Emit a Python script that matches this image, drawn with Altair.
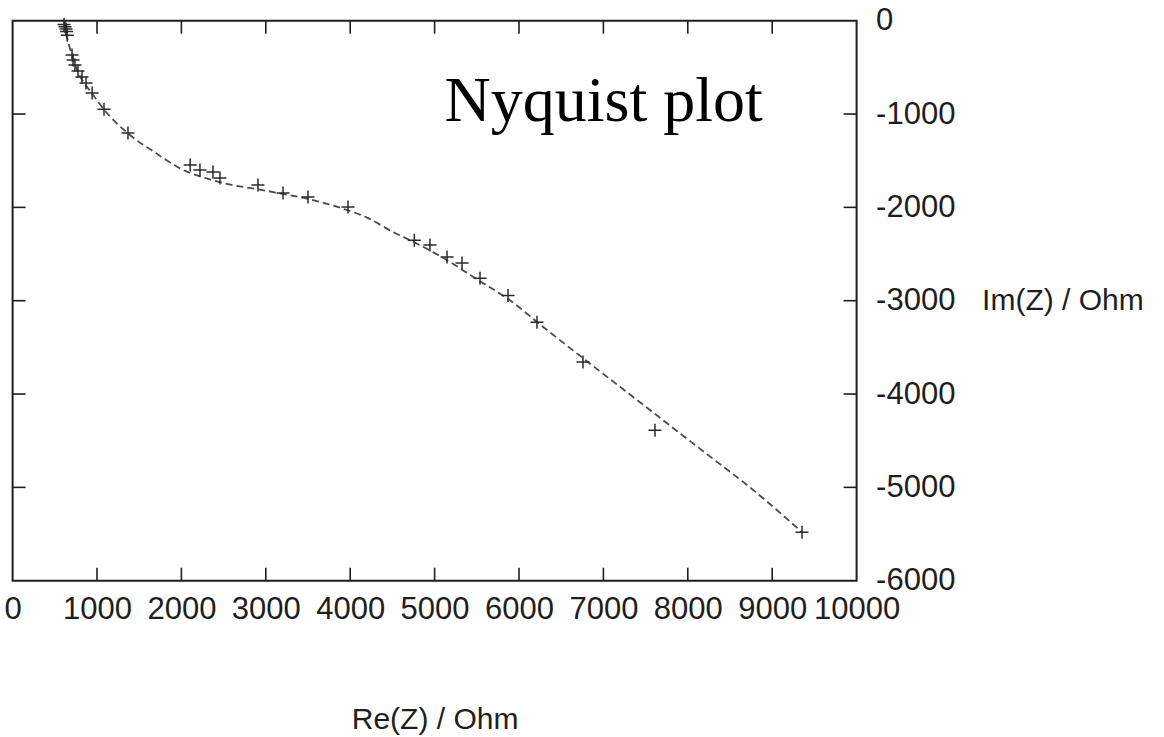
import altair as alt
import pandas as pd

# Measured impedance spectrum (Ohm)
re_z = [609, 621, 633, 640, 648, 704, 716, 739, 775, 822, 870, 942, 1083, 1367,
        2104, 2220, 2374, 2457, 2907, 3204, 3500, 3974, 4760, 4945, 5147, 5325,
        5538, 5870, 6213, 6758, 7611, 9353]
im_z = [-40, -65, -90, -115, -155, -368, -421, -475, -539, -603, -668, -775, -950, -1204,
        -1547, -1600, -1622, -1686, -1761, -1847, -1890, -1997, -2351, -2404, -2533, -2597,
        -2760, -2945, -3230, -3658, -4387, -5480]

# Fitted model curve
fit_re = [610, 625, 640, 665, 700, 740, 790, 860, 950, 1100, 1370, 1700, 2000, 2300,
          2600, 2900, 3200, 3500, 3900, 4200, 4500, 4750, 5100, 5500, 5900, 6250,
          6750, 7250, 7750, 8250, 8750, 9353]
fit_im = [-20, -80, -160, -250, -360, -470, -580, -680, -790, -970, -1210, -1420, -1590, -1690,
          -1760, -1805, -1855, -1910, -2010, -2110, -2260, -2370, -2540, -2770, -3000, -3255,
          -3610, -3960, -4310, -4660, -5010, -5480]

x_ticks = [1000, 2000, 3000, 4000, 5000, 6000, 7000, 8000, 9000]
y_ticks = [-1000, -2000, -3000, -4000, -5000]

W, H = 844, 560
TICK = 13
INK = "#1e1e1e"
SANS = "Liberation Sans"

meas = pd.DataFrame({"re": re_z, "im": im_z})
fit = pd.DataFrame({"re": fit_re, "im": fit_im, "i": list(range(len(fit_re)))})
xt = pd.DataFrame({"re": x_ticks})
yt = pd.DataFrame({"im": y_ticks})

x_scale = alt.Scale(domain=[0, 10000], nice=False, zero=False)
y_scale = alt.Scale(domain=[-6000, 0], nice=False, zero=False)

x_axis = alt.Axis(
    values=list(range(0, 10001, 1000)), ticks=False, domain=False, grid=False,
    labelFont=SANS, labelFontSize=31, labelColor=INK, labelPadding=14,
    labelFlush=False, labelOverlap=False, labelExpr="'' + datum.value",
    title="Re(Z) / Ohm", titleFont=SANS, titleFontSize=30, titleFontWeight="normal",
    titleColor=INK, titleY=139, titleBaseline="middle",
)
y_axis = alt.Axis(
    orient="right", values=list(range(-6000, 1, 1000)), ticks=False, domain=False,
    grid=False, labelFont=SANS, labelFontSize=31, labelColor=INK, labelAlign="left",
    labelBaseline="middle", labelPadding=19, labelFlush=False, labelOverlap=False,
    labelExpr="'' + datum.value",
    title="Im(Z) / Ohm", titleFont=SANS, titleFontSize=30, titleFontWeight="normal",
    titleColor=INK, titleAngle=0, titleAlign="left", titleBaseline="middle",
    titleX=125, titleY=280,
)

X = alt.X("re:Q", scale=x_scale, axis=x_axis)
Y = alt.Y("im:Q", scale=y_scale, axis=y_axis)

curve = alt.Chart(fit).mark_line(
    color="#4a4a4a", strokeWidth=1.8, strokeDash=[7, 4], interpolate="monotone"
).encode(x=X, y=Y, order="i:Q")

points = alt.Chart(meas).mark_point(
    shape="M-1,0L1,0M0,-1L0,1", filled=False, size=169, strokeWidth=1.5,
    color="#2a2a2a", opacity=1
).encode(x=X, y=Y)

# inward tick marks on all four sides
xt_bottom = alt.Chart(xt).mark_rule(color=INK, strokeWidth=1.6).encode(
    x=X, y=alt.value(H), y2=alt.value(H - TICK))
xt_top = alt.Chart(xt).mark_rule(color=INK, strokeWidth=1.6).encode(
    x=X, y=alt.value(0), y2=alt.value(TICK))
yt_left = alt.Chart(yt).mark_rule(color=INK, strokeWidth=1.6).encode(
    y=Y, x=alt.value(0), x2=alt.value(TICK))
yt_right = alt.Chart(yt).mark_rule(color=INK, strokeWidth=1.6).encode(
    y=Y, x=alt.value(W), x2=alt.value(W - TICK))

label = alt.Chart(pd.DataFrame({"t": ["Nyquist plot"]})).mark_text(
    font="Liberation Serif", fontSize=64, align="left", baseline="alphabetic", color="#000000"
).encode(text="t:N", x=alt.value(432), y=alt.value(100))

chart = alt.layer(curve, points, xt_bottom, xt_top, yt_left, yt_right, label).properties(
    width=W, height=H,
    autosize=alt.AutoSizeParams(type="none"),
    padding={"left": 12.6, "top": 20.7, "right": 1164 - 12.6 - W, "bottom": 737 - 20.7 - H},
    background="white",
).configure_view(stroke=INK, strokeWidth=2)

chart.save("out.html", embed_options={"renderer": "svg", "actions": False})
